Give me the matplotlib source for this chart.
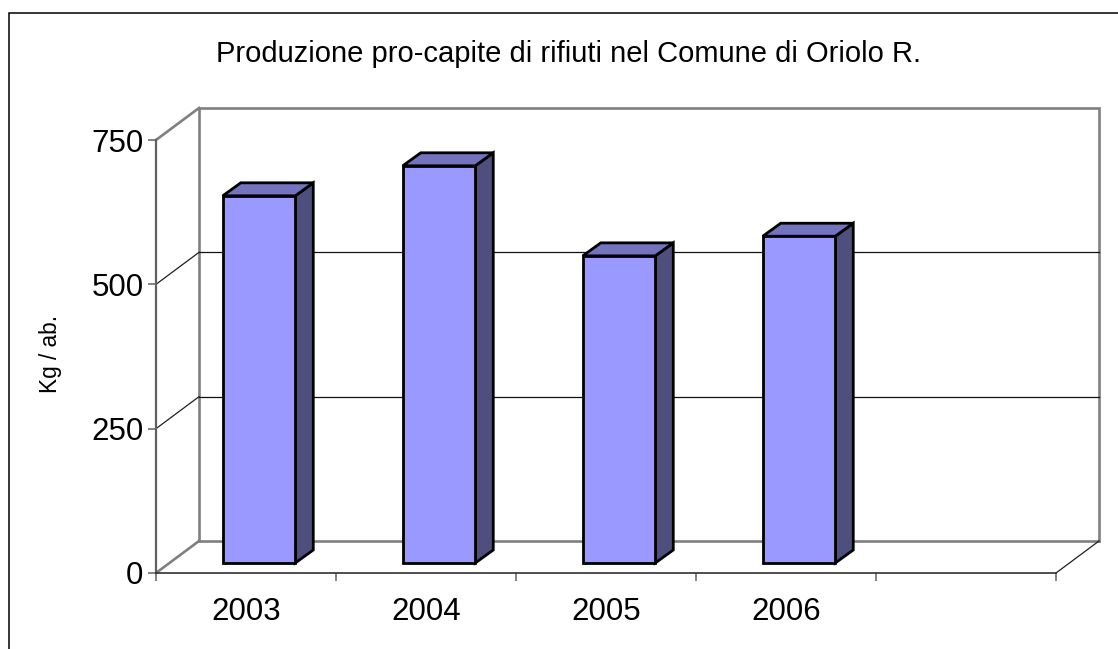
import matplotlib
matplotlib.use("Agg")
import matplotlib.pyplot as plt
from matplotlib.patches import Polygon
from matplotlib.lines import Line2D

plt.rcParams['font.family'] = ['Liberation Sans', 'DejaVu Sans']

title = "Produzione pro-capite di rifiuti nel Comune di Oriolo R."
ylabel = "Kg / ab."
years = ["2003", "2004", "2005", "2006"]
values = [636, 688, 532, 566]
yticks = [0, 250, 500, 750]
n_slots = 5

W, H = 1118, 649
fig = plt.figure(figsize=(W / 100, H / 100), dpi=100, facecolor='white')

# front plane of the 3D box: px x 156..1056, px y 140..573
ax = fig.add_axes([156 / W, 1 - 573 / H, 900 / W, 433 / H])
ax.set_xlim(0, n_slots)
ax.set_ylim(0, 750)
ax.patch.set_visible(False)

to_dx = n_slots / 900   # data units per pixel, x
to_dy = 750 / 433       # data units per pixel, y
DX, DY = 43 * to_dx, 32 * to_dy

grey = '#808080'
# back wall
ax.plot([DX, DX, n_slots + DX, n_slots + DX], [DY, 750 + DY, 750 + DY, DY],
        color=grey, lw=1.9, clip_on=False, solid_joinstyle='miter', zorder=1)
ax.plot([DX, n_slots + DX], [DY, DY], color=grey, lw=1.9, clip_on=False, zorder=1)
# left wall top and floor edges
ax.plot([0, DX], [750, 750 + DY], color=grey, lw=1.9, clip_on=False, zorder=1)
ax.plot([0, DX], [0, DY], color=grey, lw=1.9, clip_on=False, zorder=1)
ax.plot([n_slots, n_slots + DX], [0, DY], color='#202020', lw=0.9, clip_on=False, zorder=1)
# gridlines on walls
for v in yticks[1:-1]:
    ax.plot([0, DX], [v, v + DY], color='#202020', lw=0.9, clip_on=False, zorder=1)
    ax.plot([DX, n_slots + DX], [v + DY, v + DY], color='#101010', lw=0.9, clip_on=False, zorder=1)

# bars
bar_w = 72.5 * to_dx
ox, oy = 13 * to_dx, 10 * to_dy
sx, sy = 18 * to_dx, 13 * to_dy
edge = dict(edgecolor='black', linewidth=2.0, joinstyle='miter', clip_on=False, zorder=3)
for i, v in enumerate(values):
    x0 = i + 0.5 - bar_w / 2 + ox
    x1 = x0 + bar_w
    y0, y1 = oy, oy + v
    ax.add_patch(Polygon([(x1, y0), (x1 + sx, y0 + sy), (x1 + sx, y1 + sy), (x1, y1)],
                         facecolor='#4F4F7F', **edge))
    ax.add_patch(Polygon([(x0, y1), (x1, y1), (x1 + sx, y1 + sy), (x0 + sx, y1 + sy)],
                         facecolor='#7373BF', **edge))
    ax.add_patch(Polygon([(x0, y0), (x1, y0), (x1, y1), (x0, y1)],
                         facecolor='#9999FF', **edge))

# axes
for s in ['top', 'right']:
    ax.spines[s].set_visible(False)
ax.spines['left'].set_color('#606060')
ax.spines['left'].set_linewidth(1.6)
ax.spines['bottom'].set_color('#303030')
ax.spines['bottom'].set_linewidth(1.2)
ax.set_axisbelow(True)
ax.set_yticks(yticks)
ax.set_yticklabels([str(t) for t in yticks], fontsize=22.5, color='black')
ax.tick_params(axis='y', length=5.5, width=1.1, color='#606060', pad=3.6)
ax.set_xticks(range(n_slots + 1))
ax.set_xticklabels([''] * (n_slots + 1))
ax.tick_params(axis='x', which='major', length=5.5, width=1.1, color='#606060')
ax.set_xticks([i + 0.5 for i in range(len(years))], minor=True)
ax.set_xticklabels(years, minor=True, fontsize=22.5, color='black')
ax.tick_params(axis='x', which='minor', length=0, pad=17)

# text outside the plot box
fig.text(568.5 / W, 1 - 54 / H, title, fontsize=21, ha='center', va='center', color='black')
fig.text(50 / W, 1 - 354 / H, ylabel, fontsize=16.3, rotation=90, ha='center', va='center', color='black')

# chart frame (open at right and bottom, cropped)
frame = Line2D([8.5 / W, 8.5 / W, 1], [0, 1 - 12.5 / H, 1 - 12.5 / H],
               transform=fig.transFigure, color='black', lw=1.1, solid_joinstyle='miter')
fig.add_artist(frame)

fig.savefig('out.png', dpi=100, facecolor='white')
